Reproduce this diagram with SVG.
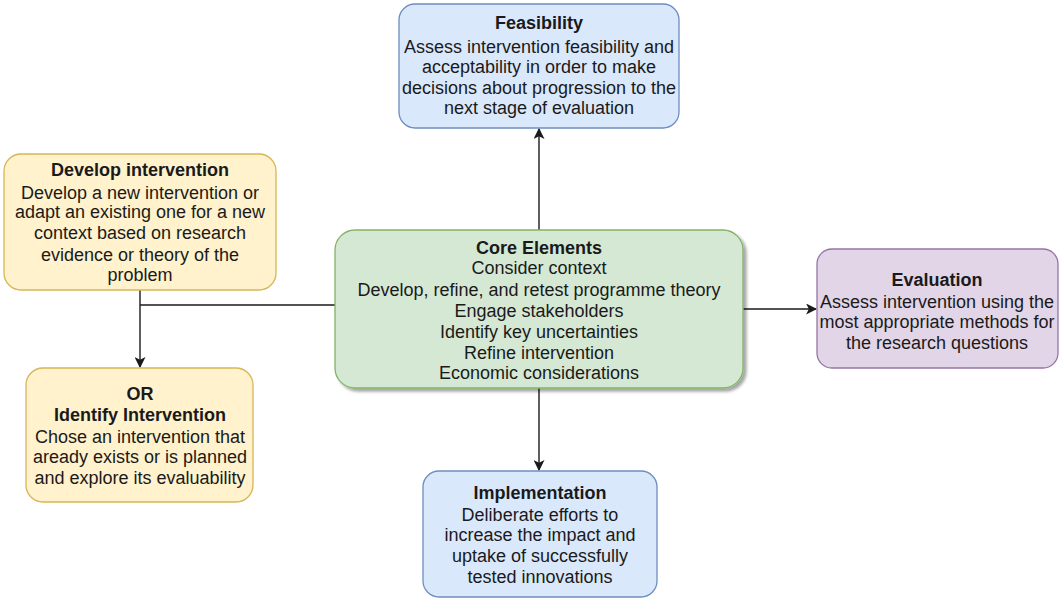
<svg xmlns="http://www.w3.org/2000/svg" width="1059" height="599" viewBox="0 0 1059 599">
  <style>
    .box { stroke-width: 1.3; }
    .blue { fill: #dae8fc; stroke: #6c8ebf; }
    .yellow { fill: #fff2cc; stroke: #d6b656; }
    .green { fill: #d5e8d4; stroke: #82b366; }
    .purple { fill: #e1d5e7; stroke: #9673a6; }
    text { font-family: "Liberation Sans", Arial, Helvetica, sans-serif; font-size: 18px; fill: #1a1a1a; text-anchor: middle; }
    .b { font-weight: bold; }
    .edge { fill: none; stroke: #1a1a1a; stroke-width: 1.4; }
  </style>
  <defs>
    <marker id="arrow" viewBox="0 0 10 10" refX="9" refY="5" markerWidth="11" markerHeight="11" markerUnits="userSpaceOnUse" orient="auto">
      <path d="M0,0 L10,5 L0,10 L2.5,5 Z" fill="#1a1a1a"/>
    </marker>
    <filter id="shadow" x="-5%" y="-5%" width="115%" height="120%">
      <feGaussianBlur in="SourceAlpha" stdDeviation="1.5"/>
      <feOffset dx="3" dy="3" result="off"/>
      <feComponentTransfer><feFuncA type="linear" slope="0.35"/></feComponentTransfer>
      <feMerge><feMergeNode/><feMergeNode in="SourceGraphic"/></feMerge>
    </filter>
  </defs>

  <rect width="1059" height="599" fill="#ffffff"/>

  <!-- connectors -->
  <g id="connectors">
    <path class="edge" d="M539,230 L539,129" marker-end="url(#arrow)"/>
    <path class="edge" d="M539,388 L539,470" marker-end="url(#arrow)"/>
    <path class="edge" d="M743,309 L816,309" marker-end="url(#arrow)"/>
    <path class="edge" d="M140,290 L140,367" marker-end="url(#arrow)"/>
    <path class="edge" d="M140,305 L335,305"/>
  </g>

  <g id="feasibility">
    <rect class="box blue" x="399" y="4" width="280" height="124" rx="16"/>
    <text x="539" y="29" class="b">Feasibility</text>
    <text x="539" y="53">Assess intervention feasibility and</text>
    <text x="539" y="73">acceptability in order to make</text>
    <text x="539" y="94">decisions about progression to the</text>
    <text x="539" y="114">next stage of evaluation</text>
  </g>

  <g id="develop">
    <rect class="box yellow" x="4" y="154" width="272" height="136" rx="17"/>
    <text x="140" y="176" class="b">Develop intervention</text>
    <text x="140" y="199">Develop a new intervention or</text>
    <text x="140" y="218">adapt an existing one for a new</text>
    <text x="140" y="239">context based on research</text>
    <text x="140" y="261">evidence or theory of the</text>
    <text x="140" y="281">problem</text>
  </g>

  <g id="core">
    <rect class="box green" x="335" y="230" width="408" height="158" rx="20" filter="url(#shadow)"/>
    <text x="539" y="254" class="b">Core Elements</text>
    <text x="539" y="274">Consider context</text>
    <text x="539" y="296">Develop, refine, and retest programme theory</text>
    <text x="539" y="317">Engage stakeholders</text>
    <text x="539" y="338">Identify key uncertainties</text>
    <text x="539" y="359">Refine intervention</text>
    <text x="539" y="379">Economic considerations</text>
  </g>

  <g id="evaluation">
    <rect class="box purple" x="817" y="249" width="241" height="119" rx="15"/>
    <text x="937" y="286" class="b">Evaluation</text>
    <text x="937" y="308">Assess intervention using the</text>
    <text x="937" y="328">most appropriate methods for</text>
    <text x="937" y="349">the research questions</text>
  </g>

  <g id="identify">
    <rect class="box yellow" x="26" y="368" width="227" height="134" rx="17"/>
    <text x="140" y="400" class="b">OR</text>
    <text x="140" y="421" class="b">Identify Intervention</text>
    <text x="140" y="443">Chose an intervention that</text>
    <text x="140" y="463">aready exists or is planned</text>
    <text x="140" y="484">and explore its evaluability</text>
  </g>

  <g id="implementation">
    <rect class="box blue" x="423" y="471" width="234" height="126" rx="16"/>
    <text x="540" y="499" class="b">Implementation</text>
    <text x="540" y="521">Deliberate efforts to</text>
    <text x="540" y="541">increase the impact and</text>
    <text x="540" y="562">uptake of successfully</text>
    <text x="540" y="583">tested innovations</text>
  </g>
</svg>
